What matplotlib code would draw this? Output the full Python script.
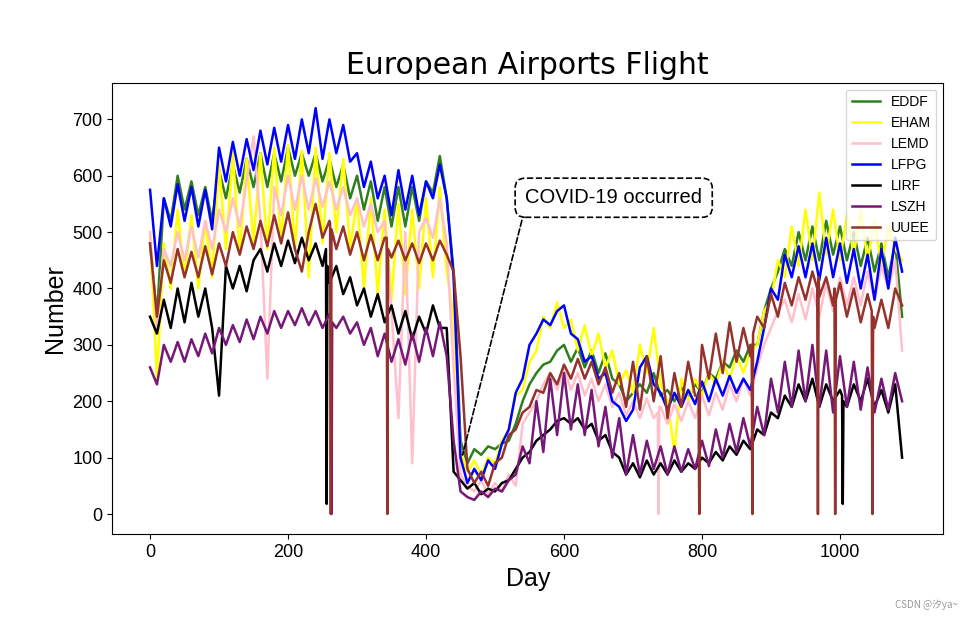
import numpy as np
import matplotlib
matplotlib.use("Agg")
import matplotlib.pyplot as plt

# daily flights per airport, read every 10 days (peaks / troughs of the weekly swing)
days = np.arange(0, 1100, 10)

eddf = [480, 350, 560, 520, 600, 540, 590, 530, 580, 520,
        610, 560, 620, 570, 630, 580, 640, 580, 640, 590,
        650, 600, 640, 600, 640, 590, 630, 580, 620, 560,
        600, 540, 590, 520, 580, 510, 580, 510, 580, 520,
        590, 570, 635, 560, 430, 130, 90, 115, 105, 120,
        115, 125, 130, 160, 200, 230, 250, 265, 270, 290,
        300, 270, 295, 260, 290, 250, 285, 240, 230, 200,
        215, 230, 215, 250, 210, 220, 200, 225, 205, 230,
        215, 250, 240, 270, 260, 290, 270, 300, 300, 360,
        400, 430, 470, 440, 500, 450, 510, 450, 520, 460,
        510, 450, 500, 440, 490, 430, 480, 420, 480, 350]

eham = [500, 240, 480, 400, 540, 420, 530, 400, 520, 420,
        620, 470, 640, 460, 630, 480, 640, 470, 650, 480,
        655, 470, 645, 420, 650, 480, 640, 500, 630, 470,
        560, 400, 560, 390, 540, 380, 550, 390, 540, 400,
        560, 420, 580, 430, 350, 110, 75, 95, 70, 100,
        90, 130, 150, 210, 220, 270, 290, 350, 330, 375,
        330, 345, 290, 335, 280, 320, 260, 290, 230, 255,
        215, 300, 250, 330, 230, 200, 110, 240, 200, 240,
        210, 250, 230, 270, 240, 280, 250, 290, 300, 360,
        380, 450, 420, 510, 440, 540, 450, 570, 460, 540,
        450, 530, 460, 540, 450, 520, 440, 510, 470, 450]

lemd = [500, 330, 470, 440, 500, 450, 510, 455, 520, 470,
        540, 500, 560, 510, 590, 670, 520, 240, 580, 530,
        600, 540, 600, 540, 595, 545, 590, 540, 580, 530,
        560, 510, 550, 500, 520, 360, 170, 500, 90, 500,
        525, 490, 560, 480, 260, 70, 50, 40, 60, 35,
        55, 40, 70, 50, 160, 180, 200, 230, 250, 220,
        260, 220, 250, 210, 240, 200, 230, 190, 215, 175,
        200, 170, 205, 170, 190, 160, 195, 165, 200, 170,
        210, 175, 215, 185, 230, 200, 240, 210, 260, 300,
        330, 360, 380, 340, 390, 345, 400, 350, 410, 360,
        420, 370, 420, 370, 430, 380, 440, 400, 450, 290]

lfpg = [575, 440, 560, 510, 585, 520, 580, 510, 575, 505,
        650, 590, 660, 600, 665, 610, 680, 620, 685, 625,
        690, 630, 700, 640, 720, 630, 700, 640, 690, 625,
        640, 580, 625, 560, 600, 530, 610, 540, 600, 530,
        590, 560, 620, 560, 420, 100, 55, 80, 60, 95,
        80, 125, 150, 215, 240, 300, 320, 345, 335, 360,
        370, 320, 310, 270, 280, 240, 250, 200, 190, 165,
        185, 260, 280, 230, 215, 185, 215, 190, 220, 195,
        235, 200, 240, 210, 245, 215, 240, 220, 270, 330,
        400, 380, 460, 420, 475, 420, 480, 415, 490, 420,
        480, 410, 470, 400, 460, 380, 470, 400, 490, 430]

lirf = [350, 320, 380, 330, 400, 340, 410, 350, 400, 330,
        210, 440, 400, 440, 395, 450, 470, 430, 480, 440,
        485, 445, 490, 450, 480, 440, 410, 440, 390, 420,
        370, 400, 350, 390, 340, 370, 320, 360, 310, 350,
        320, 370, 330, 330, 75, 60, 45, 55, 35, 45,
        40, 55, 60, 80, 100, 110, 130, 140, 150, 165,
        170, 160, 170, 150, 160, 130, 140, 110, 100, 70,
        90, 65, 95, 70, 90, 70, 95, 75, 90, 80,
        100, 90, 110, 95, 120, 105, 130, 115, 150, 140,
        180, 170, 210, 190, 230, 200, 240, 190, 230, 200,
        220, 190, 230, 200, 240, 190, 220, 180, 230, 100]

lszh = [260, 230, 300, 270, 305, 270, 310, 280, 320, 285,
        330, 300, 335, 305, 345, 310, 350, 320, 360, 330,
        360, 335, 365, 335, 360, 330, 355, 330, 350, 320,
        340, 300, 330, 280, 320, 270, 310, 265, 320, 270,
        330, 280, 340, 280, 130, 40, 30, 25, 40, 30,
        45, 40, 60, 70, 120, 90, 200, 110, 240, 140,
        250, 150, 230, 140, 220, 120, 190, 100, 170, 70,
        140, 70, 130, 80, 120, 70, 120, 75, 115, 80,
        130, 85, 150, 100, 160, 110, 170, 120, 190, 140,
        240, 180, 270, 190, 290, 200, 300, 190, 290, 180,
        280, 190, 270, 185, 260, 180, 240, 185, 250, 200]

uuee = [480, 350, 450, 410, 470, 420, 465, 420, 475, 425,
        480, 440, 500, 460, 510, 470, 520, 475, 530, 480,
        535, 470, 430, 500, 550, 490, 520, 470, 510, 460,
        500, 450, 495, 450, 490, 455, 485, 450, 480, 445,
        480, 450, 485, 460, 430, 280, 80, 55, 75, 50,
        90, 100, 140, 150, 180, 190, 220, 215, 250, 230,
        265, 240, 275, 240, 270, 230, 260, 215, 250, 190,
        270, 185, 280, 200, 280, 170, 250, 190, 270, 210,
        300, 240, 320, 250, 340, 270, 330, 280, 350, 330,
        390, 350, 410, 370, 420, 380, 430, 385, 420, 370,
        410, 350, 400, 340, 390, 330, 380, 330, 400, 370]

# single-day outages (day, value) incl. the days around them
lemd_spikes = [(736, 180), (737, 0), (738, 190)]
lirf_spikes = [(255, 470), (256, 18), (257, 440), (1003, 210), (1004, 18), (1005, 200)]
lszh_spikes = [(262, 350), (263, 0), (264, 340)]
uuee_spikes = [(261, 515), (262, 0), (263, 505),
               (343, 490), (344, 0), (345, 470),
               (795, 210), (796, 0), (797, 240),
               (872, 300), (873, 0), (874, 320),
               (967, 400), (968, 0), (969, 420),
               (992, 400), (993, 0), (994, 380),
               (1046, 360), (1047, 0), (1048, 350)]

labels = ["EDDF", "EHAM", "LEMD", "LFPG", "LIRF", "LSZH", "UUEE"]
colors = ["#2f7f1f", "yellow", "pink", "blue", "black", "#761878", "#96322d"]
series = [eddf, eham, lemd, lfpg, lirf, lszh, uuee]
spikes = [[], [], lemd_spikes, [], lirf_spikes, lszh_spikes, uuee_spikes]


def with_spikes(vals, extra):
  x = list(days) + [s[0] for s in extra]
  y = list(vals) + [s[1] for s in extra]
  order = np.argsort(x, kind="stable")
  return np.array(x)[order], np.array(y)[order]


plt.rcParams['font.family'] = ['Liberation Sans', 'DejaVu Sans']

fig = plt.figure(figsize=(9.72, 6.22), dpi=100)
ax = fig.add_axes([0.1155, 0.141, 0.855, 0.726])

for vals, extra, lab, col in zip(series, spikes, labels, colors):
  x, y = with_spikes(vals, extra)
  ax.plot(x, y, color=col, lw=1.8, label=lab)

ax.set_xlim(-54.75, 1149.75)
ax.set_ylim(-36, 765)
ax.set_xticks([0, 200, 400, 600, 800, 1000])
ax.set_yticks([0, 100, 200, 300, 400, 500, 600, 700])
ax.tick_params(labelsize=13)
ax.set_xlabel("Day", fontsize=18)
ax.set_ylabel("Number", fontsize=18)
ax.set_title("European Airports Flight", fontsize=21.5, family="DejaVu Sans")

ax.legend(loc="upper right", fontsize=10)

ax.annotate("COVID-19 occurred", xy=(452, 100), xytext=(672, 561),
            fontsize=14.5, ha="center", va="center",
            bbox=dict(boxstyle="round,pad=0.5", fc="white", ec="black", ls="--", lw=1.2),
            arrowprops=dict(arrowstyle="-", ls="--", color="black", lw=1.2, relpos=(0, 0)))

fig.text(0.985, 0.02, "CSDN @汐ya~", ha="right", va="bottom", fontsize=7, color="#999999",
         family=["Noto Sans CJK SC", "DejaVu Sans"])

fig.savefig("out.png", dpi=100)
